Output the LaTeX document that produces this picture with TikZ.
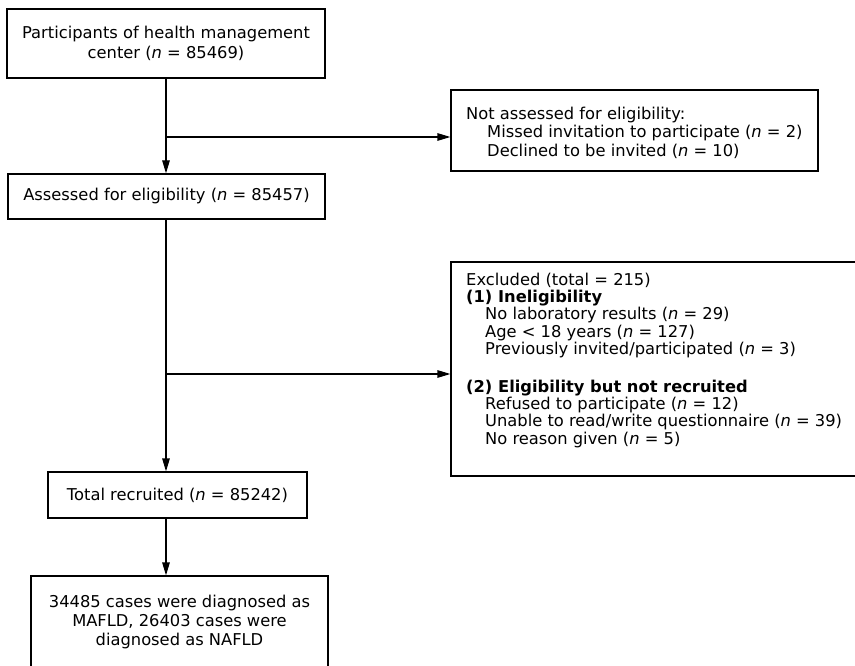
\documentclass[tikz,border=0pt]{standalone}
\usepackage{fontspec}
\setmainfont{DejaVu Sans}
\usetikzlibrary{arrows.meta}
\begin{document}
\begin{tikzpicture}[x=1pt,y=-1pt,
  box/.style={draw, line width=1.2pt, rectangle, inner sep=0pt, align=center,
    font=\fontsize{16.3}{20.5}\selectfont},
  txt/.style={inner sep=0pt, align=left, anchor=north west},
  arr/.style={line width=1.2pt, -{Triangle[length=13pt,width=7.5pt]}}]
\clip (0,0) rectangle (855,666);
\node[box, minimum width=318pt, minimum height=69pt] (p) at (166,43.5)
  {Participants of health management\\center (\textit{n} = 85469)};
\node[box, minimum width=317pt, minimum height=45pt] (a) at (166.5,196.5)
  {Assessed for eligibility (\textit{n} = 85457)};
\node[box, minimum width=259pt, minimum height=46pt] (t) at (177.5,495)
  {Total recruited (\textit{n} = 85242)};
\node[box, minimum width=297pt, minimum height=92pt, font=\fontsize{16.3}{19}\selectfont] (d) at (179.5,622)
  {34485 cases were diagnosed as\\MAFLD, 26403 cases were\\diagnosed as NAFLD};
\node[box, minimum width=367pt, minimum height=81pt] (na) at (634.5,130.5) {};
\node[txt, font=\fontsize{16.3}{18.4}\selectfont] (natxt) at (466,107)
  {Not assessed for eligibility:\\
   \hspace*{21pt}Missed invitation to participate (\textit{n} = 2)\\
   \hspace*{21pt}Declined to be invited (\textit{n} = 10)};
\node[box, minimum width=415pt, minimum height=214pt] (ex) at (658.5,369) {};
\node[txt, font=\fontsize{16.3}{17.3}\selectfont] (extxt) at (466,272.6)
  {Excluded (total = 215)\\
   \textbf{(1) Ineligibility}\\
   \hspace*{19pt}No laboratory results (\textit{n} = 29)\\
   \hspace*{19pt}Age < 18 years (\textit{n} = 127)\\
   \hspace*{19pt}Previously invited/participated (\textit{n} = 3)\\[20.7pt]
   \textbf{(2) Eligibility but not recruited}\\
   \hspace*{19pt}Refused to participate (\textit{n} = 12)\\
   \hspace*{19pt}Unable to read/write questionnaire (\textit{n} = 39)\\
   \hspace*{19pt}No reason given (\textit{n} = 5)};
\coordinate (b1) at (166,137);
\coordinate (b2) at (166,374);
\draw[arr] (p.south) -- (p.south |- a.north);
\draw[arr] (b1) -- (b1 -| na.west);
\draw[arr] (b1 |- a.south) -- (b1 |- t.north);
\draw[arr] (b2) -- (b2 -| ex.west);
\draw[arr] (b1 |- t.south) -- (b1 |- d.north);
\end{tikzpicture}
\end{document}
